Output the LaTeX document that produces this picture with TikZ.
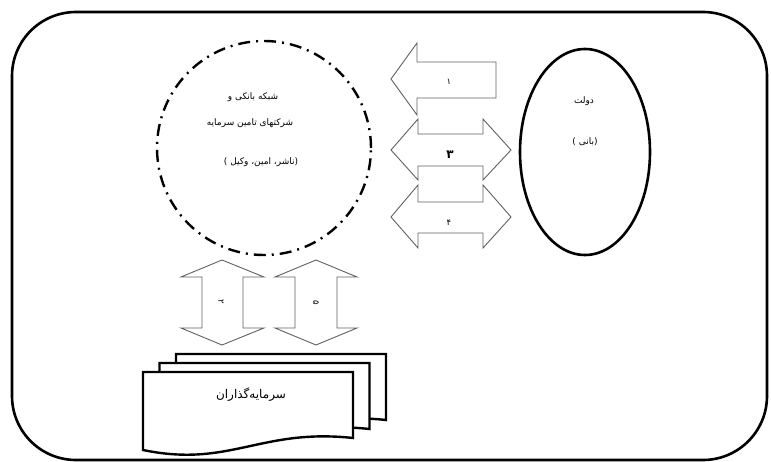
\documentclass[tikz,border=0pt]{standalone}
\usepackage{fontspec}
\usetikzlibrary{shapes.geometric}
\newfontfamily\fa[Script=Arabic]{DejaVu Sans}
\newfontfamily\faB[Script=Arabic]{DejaVu Sans Bold}
\TeXXeTstate=1
\tikzset{
  frame/.style={draw=black, line width=2.6pt, rounded corners=64pt},
  blockarrow/.style={draw=black!62, line width=0.9pt, fill=white, line join=miter},
  docpage/.style={draw=black, line width=2.4pt, fill=white, line join=miter},
  fatxt/.style={font=\fa\fontsize{9}{11}\selectfont, inner sep=0pt},
  doctxt/.style={font=\fa\fontsize{12}{14}\selectfont, inner sep=0pt},
  numtxt/.style={font=\fa\fontsize{8.5}{10}\selectfont, inner sep=0pt},
  bignum/.style={font=\faB\fontsize{12}{14}\selectfont, inner sep=0pt},
  dashcircle/.style={draw=black, circle, line width=2.4pt, minimum size=214pt, inner sep=0pt,
    dash pattern=on 12pt off 6pt on 2pt off 6pt},
  govellipse/.style={draw=black, ellipse, line width=2.6pt, minimum width=130pt, minimum height=206pt, inner sep=0pt}
}
\begin{document}
\begin{tikzpicture}[x=1pt,y=-1pt]
\useasboundingbox (0,0) rectangle (771,462);
% outer frame
\draw[frame] (12,12) rectangle (767,460);

% bank circle
\node[dashcircle] (bank) at (264,148) {};
\node[fatxt] (bank1) at (253,97) {\beginR شبکه بانکی و\endR};
\node[fatxt] (bank2) at (250,123) {\beginR شرکتهای تامین سرمایه\endR};
\node[fatxt] (bank3) at (261,162) {\beginR (ناشر، امین، وکیل )\endR};

% government ellipse
\node[govellipse] (gov) at (585,152) {};
\node[fatxt] (gov1) at (584,101) {\beginR دولت\endR};
\node[fatxt] (gov2) at (585,142) {\beginR (بانی )\endR};

% horizontal block arrows
\draw[blockarrow] (391,79) -- (417,43) -- (417,62) -- (496,62) -- (496,98) -- (417,98) -- (417,115) -- cycle;
\draw[blockarrow] (391,150) -- (418,119) -- (418,134) -- (483,134) -- (483,119) -- (511,150) -- (483,180) -- (483,166) -- (418,166) -- (418,180) -- cycle;
\draw[blockarrow] (391,217) -- (418,185) -- (418,202) -- (483,202) -- (483,185) -- (511,217) -- (483,248) -- (483,233) -- (418,233) -- (418,248) -- cycle;
\node[numtxt] (n1) at (449,82) {۱};
\node[bignum] (n3) at (450,155) {۳};
\node[numtxt] (n4) at (449,223) {۴};

% vertical block arrows
\draw[blockarrow] (222,260) -- (264,277) -- (243,277) -- (243,328) -- (264,328) -- (222,345) -- (181,328) -- (202,328) -- (202,277) -- (181,277) -- cycle;
\draw[blockarrow] (316,260) -- (357,277) -- (337,277) -- (337,328) -- (357,328) -- (316,345) -- (275,328) -- (295,328) -- (295,277) -- (275,277) -- cycle;
\node[numtxt, rotate=-90] (n2) at (221,302) {۲};
\node[numtxt, rotate=-90] (n5) at (316,303) {۵};

% investors: stacked documents
\draw[docpage] (176,354) -- (386,354) -- (386,420) .. controls (293,410) and (263,450) .. (176,432) -- cycle;
\draw[docpage] (159.5,363) -- (369.5,363) -- (369.5,429) .. controls (276.5,419) and (246.5,459) .. (159.5,441) -- cycle;
\draw[docpage] (143,372) -- (353,372) -- (353,438) .. controls (260,428) and (230,468) .. (143,450) -- cycle;
\node[doctxt] (inv) at (251,395) {\beginR سرمایه‌گذاران\endR};
\end{tikzpicture}
\end{document}
